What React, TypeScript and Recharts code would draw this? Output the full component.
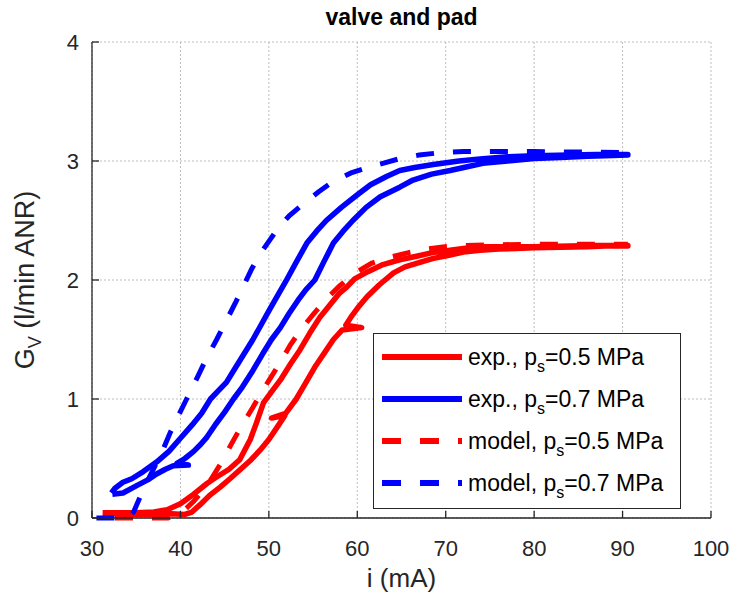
import React from 'react';
import { LineChart, Line, XAxis, YAxis, CartesianGrid } from 'recharts';

const FONT = '"Liberation Sans", Arial, Helvetica, sans-serif';
const INK = '#262626';
const RED = '#ff0000';
const BLUE = '#0000ff';

const xTicks = [30, 40, 50, 60, 70, 80, 90, 100];
const yTicks = [0, 1, 2, 3, 4];

// exp. 0.5 MPa: rising current (lower branch) then falling current (upper branch)
const exp05: [number, number][] = [
  [31.2, 0.04], [33, 0.035], [35, 0.03], [37, 0.03], [39, 0.035], [40.5, 0.03], [41.3, 0.05],
  [42.2, 0.11], [43.3, 0.19], [44.5, 0.26], [45.6, 0.33], [46.8, 0.41], [48, 0.49], [49, 0.57],
  [50, 0.66], [51, 0.77], [51.8, 0.86], [50.3, 0.84], [51.9, 0.88], [53.1, 1.0], [54.2, 1.14],
  [55.3, 1.28], [56.4, 1.4], [57.3, 1.5], [58.3, 1.58], [60.5, 1.6], [58.7, 1.62], [59.3, 1.69],
  [60.2, 1.78], [61.1, 1.86], [62.5, 1.96], [64.1, 2.06], [65.4, 2.11], [66.7, 2.14], [68.5, 2.18],
  [70.5, 2.21], [72, 2.235], [73.9, 2.25], [76, 2.26], [78, 2.265], [80, 2.27], [83, 2.275],
  [86, 2.28], [88, 2.285], [90.6, 2.285],
  [90.6, 2.29], [87, 2.29], [84, 2.285], [80, 2.28], [76, 2.28], [73.9, 2.28], [72, 2.265],
  [70.5, 2.25], [68.5, 2.23], [66.7, 2.2], [64.8, 2.17], [62.9, 2.13], [61.2, 2.07], [59.7, 2.01],
  [58.8, 1.94], [58, 1.89], [56.9, 1.79], [55.8, 1.69], [54.6, 1.55], [53.5, 1.41], [52.5, 1.3],
  [51.4, 1.17], [50.4, 1.07], [49.4, 0.97], [48.6, 0.8], [47.9, 0.66], [46.7, 0.49], [45.5, 0.41],
  [44, 0.34], [43, 0.29], [41.5, 0.2], [40, 0.12], [38.5, 0.07], [37, 0.05], [35, 0.045],
  [33, 0.045], [31.2, 0.045],
];

// exp. 0.7 MPa
const exp07: [number, number][] = [
  [32.3, 0.2], [33.5, 0.21], [35, 0.27], [36.3, 0.32], [37.3, 0.37], [38.3, 0.41], [39.2, 0.44],
  [40.9, 0.445], [39.6, 0.46], [40.5, 0.5], [41.5, 0.56], [42.3, 0.62], [43, 0.68], [44, 0.79],
  [45, 0.89], [46, 1.0], [47, 1.1], [48.2, 1.24], [49.3, 1.38], [50.3, 1.5], [51.3, 1.6],
  [52.3, 1.72], [53.3, 1.83], [54.2, 1.92], [55.2, 2.0], [56.2, 2.15], [57.3, 2.31], [58.4, 2.41],
  [59.5, 2.5], [61, 2.61], [62.6, 2.7], [64.8, 2.78], [66.3, 2.84], [68.4, 2.89], [70.5, 2.92],
  [72.3, 2.95], [74.2, 2.98], [77, 3.0], [80, 3.02], [83, 3.03], [86, 3.04], [88, 3.045], [90.6, 3.05],
  [90.6, 3.055], [87, 3.055], [84, 3.05], [80, 3.045], [77, 3.035], [74.2, 3.02], [71.5, 3.0],
  [68.6, 2.97], [66.5, 2.945], [64.8, 2.92], [63.3, 2.87], [61.5, 2.8], [59.9, 2.71], [58.2, 2.61],
  [56.5, 2.5], [55.4, 2.41], [54.3, 2.31], [53.1, 2.15], [52, 2.0], [51, 1.87], [50, 1.74],
  [49.1, 1.62], [48.2, 1.5], [47.2, 1.38], [46.2, 1.26], [45.2, 1.14], [44.3, 1.07], [43.4, 1.0],
  [42.4, 0.88], [41.3, 0.78], [40, 0.67], [38.7, 0.56], [37.3, 0.47], [35.8, 0.39], [34.5, 0.33],
  [33.5, 0.3], [32.6, 0.25], [32.2, 0.21],
];

// model 0.5 MPa
const model05: [number, number][] = [
  [32.6, 0], [35, 0], [37, 0], [38.6, 0], [39.5, 0.02], [40.5, 0.07], [41.5, 0.14], [42.5, 0.23],
  [43.5, 0.33], [44.5, 0.45], [45.6, 0.6], [46.5, 0.72], [47.3, 0.82], [48.2, 0.93], [49.2, 1.06],
  [50.3, 1.19], [51.3, 1.31], [52.4, 1.45], [53.6, 1.58], [55, 1.71], [56.5, 1.84], [58, 1.95],
  [59.8, 2.06], [61.6, 2.14], [63.6, 2.19], [65.8, 2.23], [67.8, 2.26], [69.9, 2.28], [72, 2.29],
  [75, 2.295], [80, 2.3], [85, 2.3], [90.6, 2.3],
];

// model 0.7 MPa
const model07: [number, number][] = [
  [30.5, 0], [32.5, 0], [33.5, 0], [34.2, 0.01], [34.7, 0.05], [35.4, 0.17], [36.2, 0.3],
  [37, 0.42], [38, 0.57], [38.8, 0.71], [39.7, 0.85], [40.7, 1.0], [41.9, 1.18], [43, 1.35],
  [44.1, 1.5], [45.2, 1.66], [46.3, 1.82], [47.2, 1.96], [48.1, 2.1], [49.4, 2.26], [50.9, 2.42],
  [52.3, 2.54], [53.9, 2.64], [55.6, 2.74], [57.3, 2.83], [59.3, 2.9], [61.4, 2.95], [64.8, 3.02],
  [67, 3.05], [69.4, 3.07], [72, 3.08], [75, 3.08], [80, 3.08], [85, 3.075], [90.6, 3.07],
];

const legendItems = [
  { label: 'exp., p', rest: '=0.5 MPa', color: RED, dash: undefined },
  { label: 'exp., p', rest: '=0.7 MPa', color: BLUE, dash: undefined },
  { label: 'model, p', rest: '=0.5 MPa', color: RED, dash: '19 19' },
  { label: 'model, p', rest: '=0.7 MPa', color: BLUE, dash: '19 19' },
];

const toRows = (pts: [number, number][]) => pts.map(([i, g]) => ({ i, g }));

const YLabel = () => (
  <text
    x={34}
    y={280}
    transform="rotate(-90 34 280)"
    textAnchor="middle"
    fill={INK}
    fontSize={27}
    fontFamily={FONT}
  >
    G
    <tspan fontSize={18} dy={7}>V</tspan>
    <tspan dy={-7}> (l/min ANR)</tspan>
  </text>
);

const XLabel = () => (
  <text x={401.5} y={587} textAnchor="middle" fill={INK} fontSize={26} fontFamily={FONT}>
    i (mA)
  </text>
);

export default function App() {
  const tickStyle = { fill: INK, fontSize: 22, fontFamily: FONT };
  return (
    <div style={{ position: 'absolute', left: 0, top: 0, width: 733, height: 601, background: '#fff' }}>
      <div
        style={{
          position: 'absolute', left: 92, width: 619, top: 6, textAlign: 'center',
          fontFamily: FONT, fontWeight: 'bold', fontSize: 23, lineHeight: 1, color: '#000',
        }}
      >
        valve and pad
      </div>
      <LineChart width={733} height={601} margin={{ top: 42, right: 22, bottom: 53, left: 42 }}>
        <CartesianGrid stroke="#bdbdbd" strokeDasharray="2 2" />
        <XAxis
          type="number" dataKey="i" domain={[30, 100]} ticks={xTicks} height={30}
          stroke={INK} strokeWidth={1.3} tickSize={-7} tickMargin={29} tick={tickStyle}
          label={<XLabel />}
        />
        <XAxis
          xAxisId="top" orientation="top" type="number" domain={[30, 100]} ticks={xTicks} height={0}
          stroke={INK} strokeWidth={1.3} tickSize={-7} tick={false}
        />
        <YAxis
          type="number" domain={[0, 4]} ticks={yTicks} width={50}
          stroke={INK} strokeWidth={1.3} tickSize={-7} tickMargin={20} tick={tickStyle}
          label={<YLabel />}
        />
        <YAxis
          yAxisId="right" orientation="right" type="number" domain={[0, 4]} ticks={yTicks} width={0}
          stroke={INK} strokeWidth={1.3} tickSize={-7} tick={false}
        />
        <Line data={toRows(exp05)} dataKey="g" stroke={RED} strokeWidth={5.5} dot={false}
          strokeLinejoin="round" isAnimationActive={false} />
        <Line data={toRows(exp07)} dataKey="g" stroke={BLUE} strokeWidth={5.5} dot={false}
          strokeLinejoin="round" isAnimationActive={false} />
        <Line data={toRows(model05)} dataKey="g" stroke={RED} strokeWidth={5} dot={false}
          strokeDasharray="18 19" isAnimationActive={false} />
        <Line data={toRows(model07)} dataKey="g" stroke={BLUE} strokeWidth={5} dot={false}
          strokeDasharray="18 19" isAnimationActive={false} />
      </LineChart>
      <div
        style={{
          position: 'absolute', left: 373, top: 333, width: 306, height: 174,
          border: `1px solid ${INK}`, background: '#fff', fontFamily: FONT, fontSize: 23, color: '#000',
        }}
      >
        {legendItems.map((it, k) => (
          <div key={k} style={{ position: 'absolute', left: 7, top: 7 + k * 42, height: 32, display: 'flex', alignItems: 'center' }}>
            <svg width={82} height={10} style={{ marginRight: 5 }}>
              <line x1={1} y1={5} x2={81} y2={5} stroke={it.color} strokeWidth={6} strokeDasharray={it.dash} />
            </svg>
            <span style={{ whiteSpace: 'nowrap' }}>
              {it.label}
              <sub style={{ fontSize: 16, verticalAlign: -7, lineHeight: 0 }}>s</sub>
              {it.rest}
            </span>
          </div>
        ))}
      </div>
    </div>
  );
}
